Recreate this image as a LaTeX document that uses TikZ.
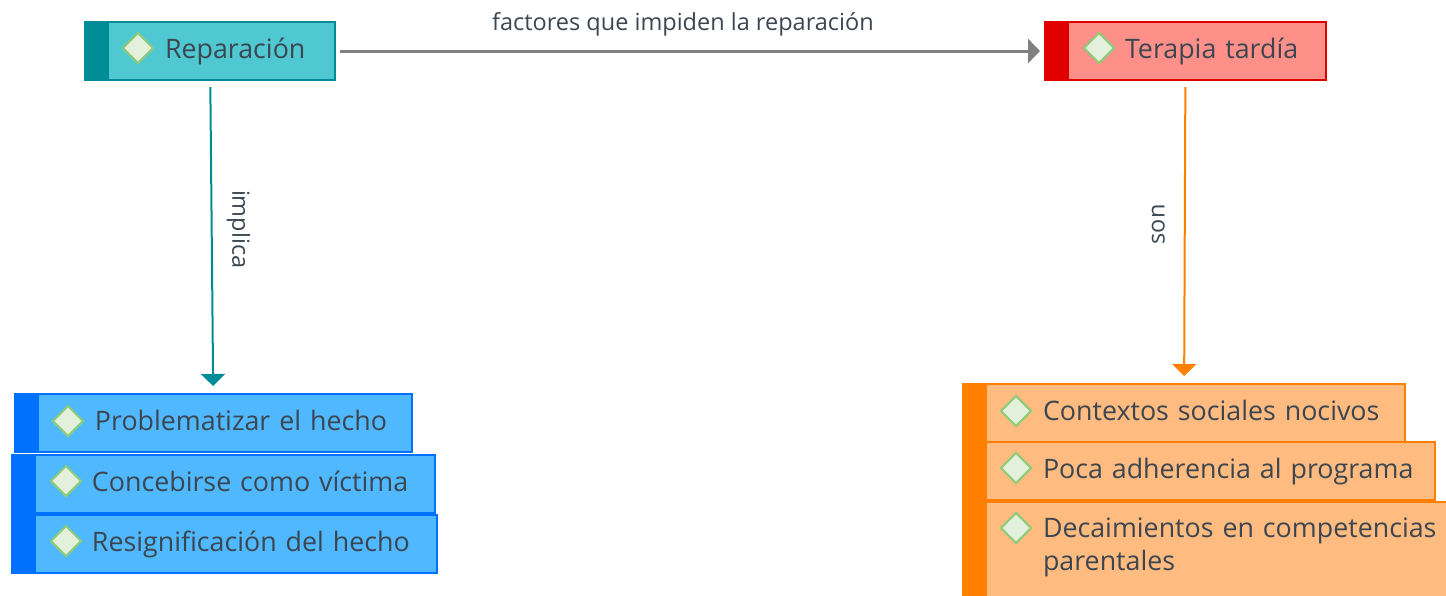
\documentclass[tikz,border=0pt]{standalone}
\usepackage{fontspec}
\setmainfont{Open Sans}
\usetikzlibrary{arrows.meta,positioning}
\usetikzlibrary{shapes.geometric}
\definecolor{tealfill}{HTML}{4FC8D2}
\definecolor{tealbar}{HTML}{008C96}
\definecolor{redfill}{HTML}{FF9089}
\definecolor{redbar}{HTML}{E00000}
\definecolor{bluefill}{HTML}{50B8FF}
\definecolor{bluebar}{HTML}{0070FF}
\definecolor{orangefill}{HTML}{FFBB80}
\definecolor{orangebar}{HTML}{FF8000}
\definecolor{inktext}{HTML}{3C4650}
\definecolor{rombofill}{HTML}{E2F0DC}
\definecolor{rombodraw}{HTML}{8CCB78}
\tikzset{
	tema/.style n args={3}{draw=#2,fill=#1,line width=2pt,anchor=north west,inner xsep=0pt,
		text width=#3,minimum height=58pt,text height=20pt,text depth=6pt,text=inktext,font=\fontsize{26.8}{33}\selectfont,
		execute at begin node={\leftskip=80pt\rightskip=0pt plus 1fil\parindent=0pt},
		path picture={\fill[#2] (path picture bounding box.north west) rectangle ([xshift=24pt]path picture bounding box.south west);}},
	rombo/.style={shape=diamond,draw=rombodraw,fill=rombofill,line width=2pt,inner sep=0pt,minimum size=31pt},
	rotulo/.style={font=\fontsize{23.5}{28}\selectfont,text=inktext,inner sep=0pt},
	flecha/.style={line width=#1,-{Triangle[length=12pt,width=24pt]},shorten <=6pt,shorten >=7pt}
}
\begin{document}
\begin{tikzpicture}[x=1pt,y=-1pt]
	\useasboundingbox (0,0) rectangle (1446,595);
	\clip (0,0) rectangle (1446,595);
	\node[tema={tealfill}{tealbar}{250pt}] (qRep) at (84,21) {Reparación};
	\node[tema={redfill}{redbar}{281pt}] (qTer) at (1044,21) {Terapia tardía};
	\node[tema={bluefill}{bluebar}{397pt}] (qPro) at (14,393) {Problematizar el hecho};
	\node[tema={bluefill}{bluebar}{423pt}] (qCon) at (11,454) {Concebirse como víctima};
	\node[tema={bluefill}{bluebar}{425pt}] (qRes) at (11,514) {Resignificación del hecho};
	\node[tema={orangefill}{orangebar}{442pt}] (qCtx) at (962,383) {Contextos sociales nocivos};
	\node[tema={orangefill}{orangebar}{472pt}] (qPoc) at (962,441) {Poca adherencia al programa};
	\node[tema={orangefill}{orangebar}{500pt},inner ysep=15pt,text depth=48pt] (qDec) at (962,501) {Decaimientos en competencias\\parentales};

	\node[rombo] (dRep) at (138,48) {};
	\node[rombo] (dTer) at (1099,48) {};
	\node[rombo] (dPro) at (68,421) {};
	\node[rombo] (dCon) at (66,481) {};
	\node[rombo] (dRes) at (66,541) {};
	\node[rombo] (dCtx) at (1016,411) {};
	\node[rombo] (dPoc) at (1016,468) {};
	\node[rombo] (dDec) at (1016,528) {};

	\path
	(qRep) edge [flecha=3pt,draw=gray,shorten <=4pt,shorten >=4pt] node [rotulo,pos=.49,above=13pt] {factores que impiden la reparación} (qTer)
	(qRep) edge [flecha=2pt,draw=tealbar] node [rotulo,rotate=-90,pos=.475,right=14pt,anchor=south] {implica} (qPro)
	(qTer) edge [flecha=2pt,draw=orangebar] node [rotulo,rotate=90,pos=.475,left=19pt,anchor=south] {son} (qCtx)
	;
\end{tikzpicture}
\end{document}
